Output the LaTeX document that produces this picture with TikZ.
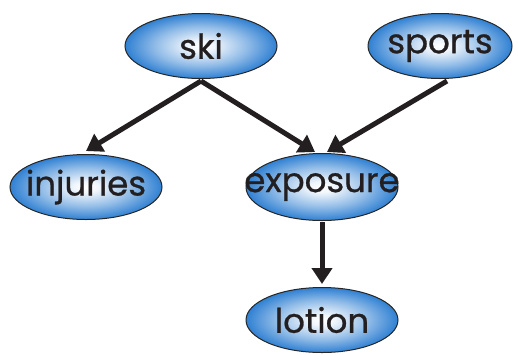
\documentclass[tikz,border=0pt]{standalone}
\usepackage{fontspec}
\newfontfamily\wordfont[FakeBold=0.8]{Poppins}
\usetikzlibrary{arrows.meta,shapes.geometric}

\definecolor{ballblue}{RGB}{28,116,206}
\definecolor{balledge}{RGB}{16,90,178}
\definecolor{inkdark}{RGB}{35,31,32}

% white core fading out to blue towards the rim
\pgfdeclareradialshading{glowblue}{\pgfpoint{0bp}{0bp}}{%
  color(0bp)=(white); color(4bp)=(white!94!ballblue); color(15bp)=(ballblue!48!white);
  color(27bp)=(ballblue); color(50bp)=(balledge)}

\begin{document}
\begin{tikzpicture}[x=1pt,y=-1pt,
  ball/.style={ellipse, draw=black!85, line width=1pt, shading=glowblue,
    minimum width=152pt, minimum height=65pt, inner sep=0pt},
  word/.style={font=\wordfont\fontsize{34}{34}\selectfont, text=inkdark},
  link/.style={draw=inkdark, line width=5pt,
    -{Triangle[length=16pt,width=20pt]}}]
\useasboundingbox (0,0) rectangle (518,354);

\node[ball, label={[word]center:ski}] (ski) at (201,46) {};
\node[ball, minimum width=144pt, label={[word]center:sports}] (sports) at (440,46) {};
\node[ball, label={[word]center:injuries}] (injuries) at (86,187) {};
\node[ball, minimum height=67pt, label={[word]center:exposure}] (exposure) at (322,187) {};
\node[ball, label={[word]center:lotion}] (lotion) at (322,320) {};

\draw[link] ([yshift=-2]ski.south) -- ([yshift=3]injuries.north);
\draw[link] ([yshift=-2]ski.south) -- ([xshift=-7,yshift=1]exposure.north);
\draw[link] ([xshift=7,yshift=-2]sports.south) -- ([xshift=5,yshift=1]exposure.north);
\draw[link] ([yshift=-1]exposure.south) -- ([yshift=3]lotion.north);
\end{tikzpicture}
\end{document}
